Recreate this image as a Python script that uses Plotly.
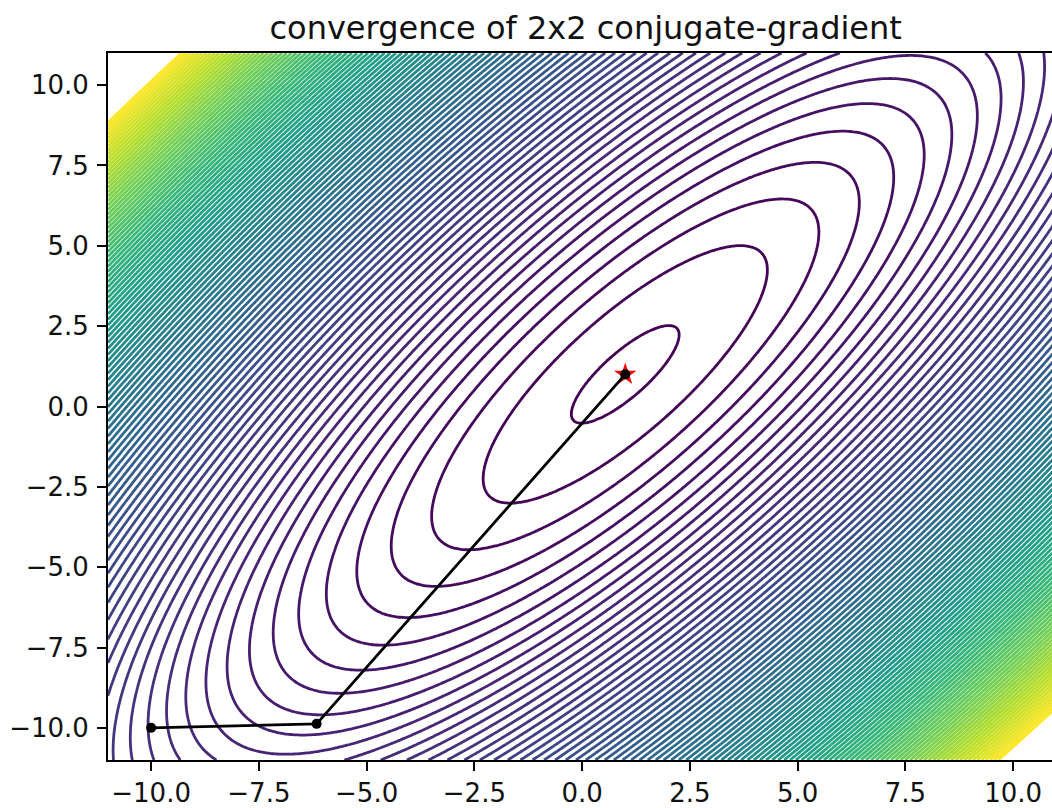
import numpy as np
import plotly.graph_objects as go

# quadratic form f(x) = 0.5 x^T A x - b^T x
A_matrix = [[3.0, -2.0], [-2.0, 2.032]]
x_star = [1.0, 1.0]

# grid extent
grid_min, grid_max, grid_n = -11.0, 11.0, 361

# contour levels (relative to the minimum)
level_start = 0.807
level_size = 4.80
level_end = 466.5

# conjugate-gradient path
path_x = [-10.0, -6.16, 1.0]
path_y = [-10.0, -9.875, 1.0]

A = np.array(A_matrix)
b = A @ np.array(x_star)
gx = np.linspace(grid_min, grid_max, grid_n)
gy = np.linspace(grid_min, grid_max, grid_n)
X, Y = np.meshgrid(gx, gy)
f = 0.5 * (A[0, 0] * X**2 + 2 * A[0, 1] * X * Y + A[1, 1] * Y**2) - (b[0] * X + b[1] * Y)
fmin = -0.5 * float(b @ np.array(x_star))
Z = f - fmin

fig = go.Figure()
fig.add_trace(go.Contour(
    x=gx, y=gy, z=Z,
    contours=dict(start=level_start, end=level_end, size=level_size, coloring="lines"),
    colorscale="Viridis", zmin=level_start, zmax=level_end, zauto=False,
    line=dict(width=2.8, smoothing=1),
    showscale=False, hoverinfo="skip",
))
fig.add_trace(go.Scatter(
    x=[x_star[0]], y=[x_star[1]], mode="markers",
    marker=dict(symbol="star", size=17, color="red", line=dict(width=0)),
    showlegend=False,
))
fig.add_trace(go.Scatter(
    x=path_x, y=path_y, mode="lines+markers",
    line=dict(color="black", width=2.8),
    marker=dict(size=10, color="black"),
    showlegend=False,
))

tick_vals = [-10, -7.5, -5, -2.5, 0, 2.5, 5, 7.5, 10]
tick_text = ["\u221210.0", "\u22127.5", "\u22125.0", "\u22122.5", "0.0", "2.5", "5.0", "7.5", "10.0"]

axis_common = dict(
    showgrid=False, zeroline=False, showline=True, linecolor="black", linewidth=1.8,
    ticks="outside", ticklen=9, tickwidth=1.8, tickcolor="black",
    tickvals=tick_vals, ticktext=tick_text,
    tickfont=dict(family="DejaVu Sans", size=26, color="#111111"),
)

fig.update_layout(
    width=1052, height=808,
    margin=dict(l=108, r=0, t=53, b=46),
    paper_bgcolor="white", plot_bgcolor="white",
    title=dict(text="convergence of 2x2 conjugate-gradient",
               font=dict(family="DejaVu Sans", size=32, color="#111111"),
               x=0.506, xref="paper", xanchor="center",
               y=1 - 28 / 808, yref="container", yanchor="middle"),
    xaxis=dict(range=[-11, 10.9], mirror=True, **axis_common),
    yaxis=dict(range=[-11, 11], mirror=False, ticklabelstandoff=3, **axis_common),
    showlegend=False,
)

fig.write_html("out.html")
